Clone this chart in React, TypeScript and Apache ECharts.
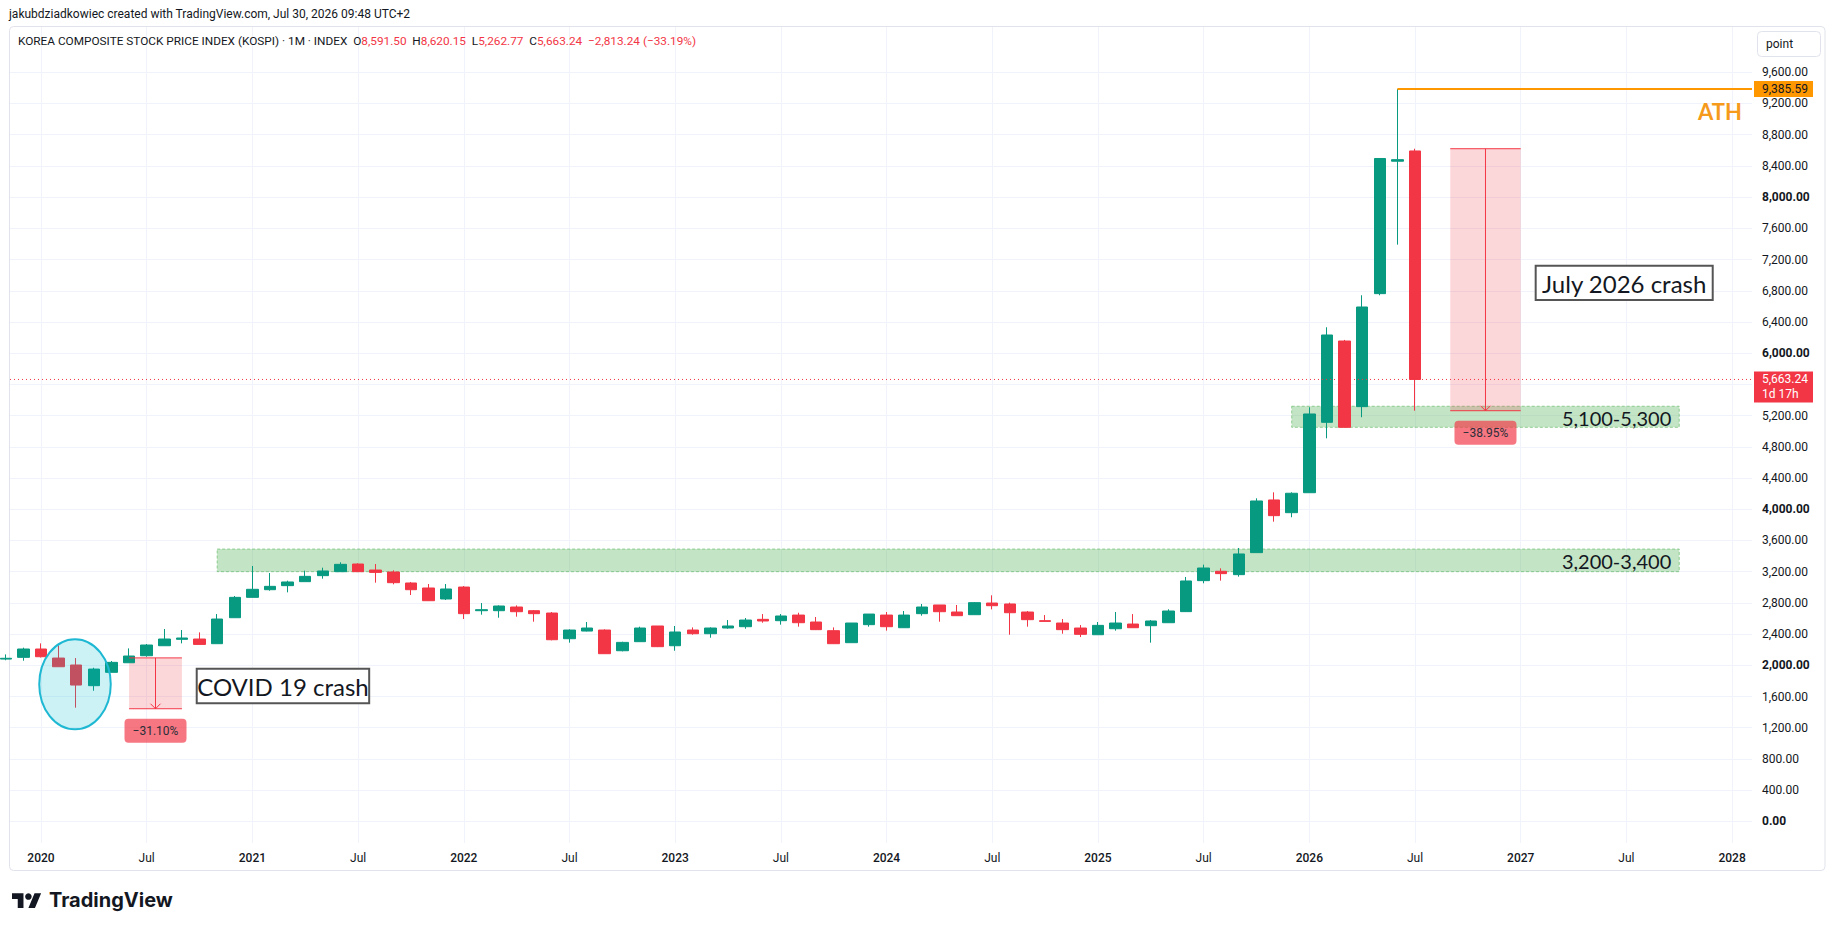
import React, { useEffect, useRef } from "react";
import * as echarts from "echarts";

// ---------- DATA ----------
// month index 0 = Jan 2020; first candle is Nov 2019 (index -2)
const FIRST_MONTH_INDEX = -2;
const months = [
  "2019-11", "2019-12",
  "2020-01", "2020-02", "2020-03", "2020-04", "2020-05", "2020-06", "2020-07", "2020-08", "2020-09", "2020-10", "2020-11", "2020-12",
  "2021-01", "2021-02", "2021-03", "2021-04", "2021-05", "2021-06", "2021-07", "2021-08", "2021-09", "2021-10", "2021-11", "2021-12",
  "2022-01", "2022-02", "2022-03", "2022-04", "2022-05", "2022-06", "2022-07", "2022-08", "2022-09", "2022-10", "2022-11", "2022-12",
  "2023-01", "2023-02", "2023-03", "2023-04", "2023-05", "2023-06", "2023-07", "2023-08", "2023-09", "2023-10", "2023-11", "2023-12",
  "2024-01", "2024-02", "2024-03", "2024-04", "2024-05", "2024-06", "2024-07", "2024-08", "2024-09", "2024-10", "2024-11", "2024-12",
  "2025-01", "2025-02", "2025-03", "2025-04", "2025-05", "2025-06", "2025-07", "2025-08", "2025-09", "2025-10", "2025-11", "2025-12",
  "2026-01", "2026-02", "2026-03", "2026-04", "2026-05", "2026-06", "2026-07",
];
const openValues = [
  2080, 2102,
  2209, 2093, 2004, 1739, 1910, 2033, 2123, 2251, 2333, 2337, 2277, 2610,
  2871, 2969, 3021, 3072, 3149, 3200, 3298, 3221, 3196, 3055, 2991, 2850,
  3003, 2700, 2700, 2747, 2700, 2670, 2341, 2439, 2452, 2187, 2303, 2504,
  2251, 2452, 2405, 2478, 2495, 2589, 2572, 2644, 2555, 2444, 2290, 2521,
  2644, 2482, 2662, 2773, 2683, 2649, 2798, 2786, 2683, 2572, 2542, 2478,
  2392, 2469, 2529, 2508, 2546, 2688, 3085, 3205, 3162, 3444, 4119, 3956,
  4212, 5114, 6156, 5315, 6763, 8460, 8591.5,
];
const highValues = [
  2140, 2226,
  2281, 2256, 2093, 1969, 2055, 2217, 2273, 2465, 2452, 2422, 2657, 2888,
  3273, 3183, 3085, 3213, 3251, 3320, 3307, 3298, 3217, 3068, 3042, 3042,
  3016, 2798, 2768, 2768, 2709, 2683, 2461, 2555, 2461, 2302, 2495, 2504,
  2504, 2486, 2486, 2580, 2606, 2657, 2657, 2674, 2619, 2486, 2542, 2657,
  2683, 2696, 2786, 2773, 2773, 2811, 2897, 2803, 2696, 2644, 2593, 2516,
  2555, 2683, 2657, 2580, 2718, 3132, 3290, 3243, 3504, 4140, 4217, 4217,
  5307, 6332, 6170, 6742, 8500, 9385.59, 8620.15,
];
const lowValues = [
  2065, 2059,
  2100, 1980, 1457, 1674, 1910, 2033, 2110, 2251, 2281, 2268, 2277, 2610,
  2871, 2956, 2935, 3072, 3110, 3200, 3200, 3059, 3038, 2901, 2824, 2837,
  2593, 2649, 2610, 2623, 2559, 2320, 2290, 2435, 2145, 2179, 2303, 2234,
  2187, 2392, 2354, 2469, 2469, 2546, 2521, 2495, 2452, 2277, 2290, 2495,
  2444, 2482, 2636, 2559, 2636, 2649, 2717, 2392, 2495, 2563, 2405, 2362,
  2392, 2444, 2482, 2290, 2546, 2688, 3051, 3085, 3136, 3444, 3841, 3897,
  4212, 4909, 5045, 5179, 6742, 7391, 5262.77,
];
const closeValues = [
  2090, 2209,
  2110, 1982, 1747, 1952, 2038, 2119, 2260, 2337, 2350, 2268, 2593, 2871,
  2974, 3012, 3068, 3140, 3209, 3294, 3200, 3191, 3059, 2969, 2828, 2978,
  2662, 2713, 2760, 2687, 2662, 2328, 2452, 2478, 2149, 2294, 2478, 2239,
  2427, 2405, 2478, 2504, 2580, 2568, 2632, 2546, 2457, 2277, 2542, 2657,
  2495, 2644, 2747, 2687, 2636, 2803, 2764, 2674, 2585, 2563, 2457, 2397,
  2512, 2542, 2482, 2568, 2696, 3081, 3247, 3175, 3427, 4106, 3918, 4205,
  5221, 6233, 5050, 6592, 8495, 8480, 5663.24,
];

// grid lines every 400; the 5,600 label sits under the last-price tag, so it is not labelled
const priceTicks = [0, 400, 800, 1200, 1600, 2000, 2400, 2800, 3200, 3600, 4000, 4400, 4800, 5200, 5600, 6000, 6400, 6800, 7200, 7600, 8000, 8400, 8800, 9200, 9600];
const priceTickLabels = [0, 400, 800, 1200, 1600, 2000, 2400, 2800, 3200, 3600, 4000, 4400, 4800, 5200, 6000, 6400, 6800, 7200, 7600, 8000, 8400, 8800, 9200, 9600];
const timeTicks = [0, 6, 12, 18, 24, 30, 36, 42, 48, 54, 60, 66, 72, 78, 84, 90, 96];
const timeTickLabels = ["2020", "Jul", "2021", "Jul", "2022", "Jul", "2023", "Jul", "2024", "Jul", "2025", "Jul", "2026", "Jul", "2027", "Jul", "2028"];

// annotations (data coordinates: month index, price)
const zoneLabels = ["3,200-3,400", "5,100-5,300"];
const zoneFrom = [10, 71];
const zoneTo = [93, 93];
const zoneLow = [3200, 5050];
const zoneHigh = [3490, 5320];

const rangeLabels = ["\u221231.10%", "\u221238.95%"];
const rangeFrom = [5, 80];
const rangeTo = [8, 84];
const rangeTop = [2095, 8620.15];
const rangeBottom = [1443.5, 5262.77];

const noteTexts = ["COVID 19 crash", "July 2026 crash"];
const noteFrom = [8.84, 84.85];
const noteTo = [18.63, 94.9];
const noteTop = [1957, 7121];
const noteBottom = [1513, 6682];

const athValue = 9385.59;
const athFromIndex = 77;
const athLabelIndex = 96.56;
const athLabelValue = 9091;
const lastClose = 5663.24;
const ellipseCenter = [1.93, 1757];
const ellipseRadius = [2.03, 577];

// ---------- LAYOUT ----------
const X_MIN = -1.76;
const X_MAX = 97.13;
const Y_MIN = -277;
const Y_MAX = 10180;
const UP = "#089981";
const DOWN = "#f23645";
const TEXT = "#131722";

echarts.graphic.registerShape(
  "tvlogo",
  echarts.graphic.extendPath("M14 22H7V11H0V4h14v18zM28 22h-8l7.5-18h8L28 22z", {})
);

const fmtPrice = (v: number) =>
  v.toLocaleString("en-US", { minimumFractionDigits: 2, maximumFractionDigits: 2 });

function buildGraphics(chart: any) {
  const px = (i: number, v: number) => chart.convertToPixel({ gridIndex: 0 }, [i, v]) as number[];
  const plotLeft = px(X_MIN, 0)[0];
  const plotRight = px(X_MAX, 0)[0];
  const g: any[] = [];

  // frame
  g.push({ type: "rect", z: 0, silent: true, shape: { x: 9.5, y: 26.5, width: 1815.5, height: 844, r: 4 }, style: { fill: "none", stroke: "#e0e3eb", lineWidth: 1 } });

  // header
  g.push({ type: "text", z: 10, style: { text: "jakubdziadkowiec created with TradingView.com, Jul 30, 2026 09:48 UTC+2", x: 9, y: 14, verticalAlign: "middle", fill: TEXT, font: "12px Roboto" } });
  g.push({
    type: "text", z: 10,
    style: {
      x: 18, y: 41, verticalAlign: "middle",
      text: "{t|KOREA COMPOSITE STOCK PRICE INDEX (KOSPI) \u00b7 1M \u00b7 INDEX}  {t|O}{r|8,591.50}  {t|H}{r|8,620.15}  {t|L}{r|5,262.77}  {t|C}{r|5,663.24}  {r|\u22122,813.24 (\u221233.19%)}",
      rich: {
        t: { fill: TEXT, fontSize: 11.8, fontFamily: "Roboto" },
        r: { fill: DOWN, fontSize: 11.8, fontFamily: "Roboto" },
      },
      font: "11.8px Roboto",
    },
  });
  // point button
  g.push({ type: "rect", z: 10, shape: { x: 1757.5, y: 31.5, width: 63, height: 25, r: 4 }, style: { fill: "#fff", stroke: "#e0e3eb" } });
  g.push({ type: "text", z: 11, style: { text: "point", x: 1766, y: 44, verticalAlign: "middle", fill: TEXT, font: "12px Roboto" } });

  // zones
  zoneLabels.forEach((label, k) => {
    const [x1, y1] = px(zoneFrom[k], zoneHigh[k]);
    const [x2, y2] = px(zoneTo[k], zoneLow[k]);
    g.push({ type: "rect", z: 1, silent: true, shape: { x: x1, y: y1, width: x2 - x1, height: y2 - y1 }, style: { fill: "rgba(76,175,80,0.33)", stroke: "rgba(76,175,80,0.55)", lineWidth: 1, lineDash: [3, 2] } });
    g.push({ type: "text", z: 6, style: { text: label, x: x2 - 8, y: (y1 + y2) / 2 + 1, align: "right", verticalAlign: "middle", fill: TEXT, font: "20px Lato" } });
  });

  // price ranges
  rangeLabels.forEach((label, k) => {
    const [x1, yT] = px(rangeFrom[k], rangeTop[k]);
    const [x2, yB] = px(rangeTo[k], rangeBottom[k]);
    const xm = (x1 + x2) / 2;
    g.push({ type: "rect", z: 1, silent: true, shape: { x: x1, y: yT, width: x2 - x1, height: yB - yT }, style: { fill: "rgba(242,54,69,0.2)" } });
    g.push({ type: "line", z: 3, shape: { x1, y1: yT, x2, y2: yT }, style: { stroke: DOWN, lineWidth: 1 } });
    g.push({ type: "line", z: 3, shape: { x1, y1: yB, x2, y2: yB }, style: { stroke: DOWN, lineWidth: 1 } });
    g.push({ type: "line", z: 3, shape: { x1: xm, y1: yT, x2: xm, y2: yB }, style: { stroke: DOWN, lineWidth: 1 } });
    g.push({ type: "polyline", z: 3, shape: { points: [[xm - 5, yB - 5], [xm, yB], [xm + 5, yB - 5]] }, style: { stroke: DOWN, lineWidth: 1, fill: "none" } });
    g.push({ type: "rect", z: 6, shape: { x: xm - 31, y: yB + 10, width: 62, height: 24, r: 4 }, style: { fill: "rgba(242,54,69,0.68)" } });
    g.push({ type: "text", z: 7, style: { text: label, x: xm, y: yB + 22, align: "center", verticalAlign: "middle", fill: "#2a2e39", font: "12px Roboto" } });
  });

  // covid ellipse
  {
    const [cx, cy] = px(ellipseCenter[0], ellipseCenter[1]);
    const rx = px(ellipseCenter[0] + ellipseRadius[0], ellipseCenter[1])[0] - cx;
    const ry = cy - px(ellipseCenter[0], ellipseCenter[1] + ellipseRadius[1])[1];
    g.push({ type: "ellipse", z: 4, shape: { cx, cy, rx, ry }, style: { fill: "rgba(0,188,212,0.2)", stroke: "#1fb8d3", lineWidth: 2 } });
  }

  // notes
  noteTexts.forEach((t, k) => {
    const [x1, y1] = px(noteFrom[k], noteTop[k]);
    const [x2, y2] = px(noteTo[k], noteBottom[k]);
    g.push({ type: "rect", z: 8, shape: { x: x1, y: y1, width: x2 - x1, height: y2 - y1 }, style: { fill: "#ffffff", stroke: "#555555", lineWidth: 2 } });
    g.push({ type: "text", z: 9, style: { text: t, x: (x1 + x2) / 2, y: (y1 + y2) / 2 + 1, align: "center", verticalAlign: "middle", fill: TEXT, font: "24px Lato" } });
  });

  // ATH
  {
    const [xa, ya] = px(athFromIndex, athValue);
    g.push({ type: "line", z: 3, shape: { x1: xa, y1: ya, x2: plotRight, y2: ya }, style: { stroke: "#ff9800", lineWidth: 2 } });
    const [xl, yl] = px(athLabelIndex, athLabelValue);
    g.push({ type: "text", z: 6, style: { text: "ATH", x: xl, y: yl, align: "right", verticalAlign: "middle", fill: "#f59a1b", font: "bold 22px Lato" } });
    g.push({ type: "rect", z: 10, shape: { x: plotRight + 2, y: ya - 8, width: 59, height: 16 }, style: { fill: "#ff9800" } });
    g.push({ type: "text", z: 11, style: { text: fmtPrice(athValue), x: plotRight + 10, y: ya, verticalAlign: "middle", fill: TEXT, font: "12px Roboto" } });
  }

  // last price
  {
    const yc = px(X_MIN, lastClose)[1];
    g.push({ type: "line", z: 3, shape: { x1: plotLeft, y1: yc, x2: plotRight, y2: yc }, style: { stroke: DOWN, lineWidth: 1, lineDash: [1, 3] } });
    g.push({ type: "rect", z: 10, shape: { x: plotRight + 2, y: yc - 8, width: 59, height: 31 }, style: { fill: DOWN } });
    g.push({ type: "text", z: 11, style: { text: fmtPrice(lastClose), x: plotRight + 10, y: yc, verticalAlign: "middle", fill: "#fff", font: "12px Roboto" } });
    g.push({ type: "text", z: 11, style: { text: "1d 17h", x: plotRight + 10, y: yc + 15, verticalAlign: "middle", fill: "#fff", font: "12px Roboto" } });
  }

  // footer logo
  g.push({ type: "tvlogo", z: 10, x: 12, y: 890, scaleX: 0.82, scaleY: 0.82, style: { fill: TEXT } });
  g.push({ type: "circle", z: 10, shape: { cx: 12 + 20 * 0.82, cy: 890 + 8 * 0.82, r: 4 * 0.82 }, style: { fill: TEXT } });
  g.push({ type: "text", z: 10, style: { text: "TradingView", x: 49, y: 900, verticalAlign: "middle", fill: TEXT, font: "bold 20px Inter" } });

  return g;
}

export default function App() {
  const ref = useRef<HTMLDivElement>(null);
  useEffect(() => {
    if (!ref.current) return;
    const chart = echarts.init(ref.current, undefined, { renderer: "svg" });
    const candleData = openValues.map((o, k) => [FIRST_MONTH_INDEX + k, o, closeValues[k], lowValues[k], highValues[k]]);
    chart.setOption({
      animation: false,
      backgroundColor: "#ffffff",
      grid: { left: 10, top: 27, width: 1742, height: 816 },
      xAxis: {
        type: "value",
        min: X_MIN,
        max: X_MAX,
        axisLine: { show: false },
        axisTick: { show: false, customValues: timeTicks },
        axisLabel: {
          customValues: timeTicks,
          margin: 9,
          formatter: (v: number) => {
            const lbl = timeTickLabels[timeTicks.indexOf(Math.round(v))] ?? "";
            return lbl === "Jul" ? `{m|${lbl}}` : `{y|${lbl}}`;
          },
          rich: {
            y: { fontFamily: "Roboto", fontSize: 12, fontWeight: 500, color: TEXT },
            m: { fontFamily: "Roboto", fontSize: 12, color: TEXT },
          },
        },
        splitLine: { show: true, lineStyle: { color: "#f0f3fa", width: 1 } },
      },
      yAxis: {
        type: "value",
        position: "right",
        min: Y_MIN,
        max: Y_MAX,
        axisLine: { show: false },
        axisTick: { show: false, customValues: priceTicks },
        axisLabel: {
          customValues: priceTickLabels,
          margin: 10,
          formatter: (v: number) => (v % 2000 === 0 ? `{b|${fmtPrice(v)}}` : `{n|${fmtPrice(v)}}`),
          rich: {
            b: { fontFamily: "Roboto", fontSize: 12, fontWeight: "bold", color: TEXT },
            n: { fontFamily: "Roboto", fontSize: 12, color: TEXT },
          },
        },
        splitLine: { show: true, lineStyle: { color: "#f0f3fa", width: 1 } },
      },
      series: [
        {
          type: "candlestick",
          name: "KOSPI",
          dimensions: ["month", "open", "close", "lowest", "highest"],
          encode: { x: 0, y: [1, 2, 3, 4] },
          data: candleData,
          barWidth: 12,
          clip: true,
          itemStyle: { color: UP, color0: DOWN, borderColor: UP, borderColor0: DOWN, borderWidth: 1 },
        },
      ],
    });
    chart.setOption({ graphic: buildGraphics(chart) });
    return () => chart.dispose();
  }, []);
  return (
    <div
      ref={ref}
      style={{ position: "fixed", left: 0, top: 0, width: 1835, height: 931, background: "#fff" }}
    />
  );
}
